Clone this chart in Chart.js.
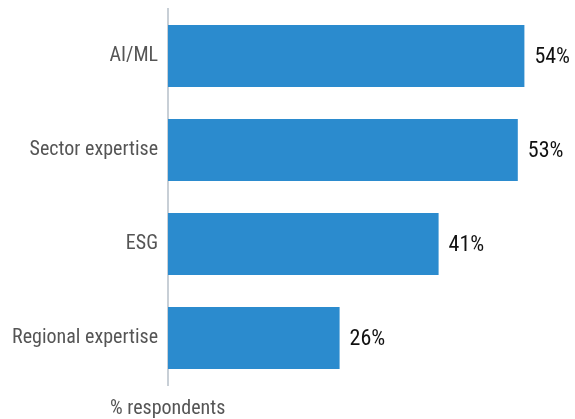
<!DOCTYPE html>
<html>
<head>
<meta charset="utf-8">
<script src="https://cdn.jsdelivr.net/npm/chart.js@4"></script>
<style>
  html, body { margin: 0; padding: 0; background: #fff; }
  #wrap { width: 575px; height: 419px; position: relative; }
</style>
</head>
<body>
<div id="wrap"><canvas id="myChart"></canvas></div>
<script>
// Compétences recherchées (% des répondants)
var categories = ['AI/ML', 'Sector expertise', 'ESG', 'Regional expertise'];
var valeurs = [54, 53, 41, 26];
var axisTitle = '% respondents';

var fontName = '"Liberation Sans Narrow", "Arial Narrow", "Roboto Condensed", "Liberation Sans", sans-serif';

// Étiquettes de valeur au bout des barres + titre de l'axe
var valueLabels = {
    id: 'valueLabels',
    afterDatasetsDraw: function (chart) {
        var ctx = chart.ctx;
        var meta = chart.getDatasetMeta(0);
        ctx.save();
        ctx.font = '22px ' + fontName;
        ctx.fillStyle = '#111';
        ctx.textAlign = 'left';
        ctx.textBaseline = 'middle';
        meta.data.forEach(function (bar, i) {
            ctx.fillText(valeurs[i] + '%', bar.x + 10, bar.y + 1);
        });
        ctx.font = '20px ' + fontName;
        ctx.fillStyle = '#555';
        ctx.fillText(axisTitle, 110, 409);
        ctx.restore();
    }
};

var ctx = document.getElementById('myChart').getContext('2d');
var myChart = new Chart(ctx, {
    type: 'bar',
    data: {
        labels: categories,
        datasets: [{
            data: valeurs,
            backgroundColor: '#2b8bce',
            categoryPercentage: 1,
            barPercentage: 0.66
        }]
    },
    options: {
        indexAxis: 'y',
        responsive: true,
        maintainAspectRatio: false,
        animation: false,
        layout: { padding: { top: 9, bottom: 34, left: 0, right: 11 } },
        plugins: {
            legend: { display: false },
            tooltip: { enabled: false }
        },
        scales: {
            x: {
                display: false,
                min: 0,
                max: 60
            },
            y: {
                afterFit: function (scale) {
                    scale.width = 168;
                    scale.paddingTop = 0;
                    scale.paddingBottom = 0;
                },
                grid: { display: false, drawTicks: false },
                border: { display: true, color: '#c8cfd6', width: 2 },
                ticks: {
                    padding: 10,
                    color: '#555',
                    font: { family: fontName, size: 20 }
                }
            }
        }
    },
    plugins: [valueLabels]
});
</script>
</body>
</html>
